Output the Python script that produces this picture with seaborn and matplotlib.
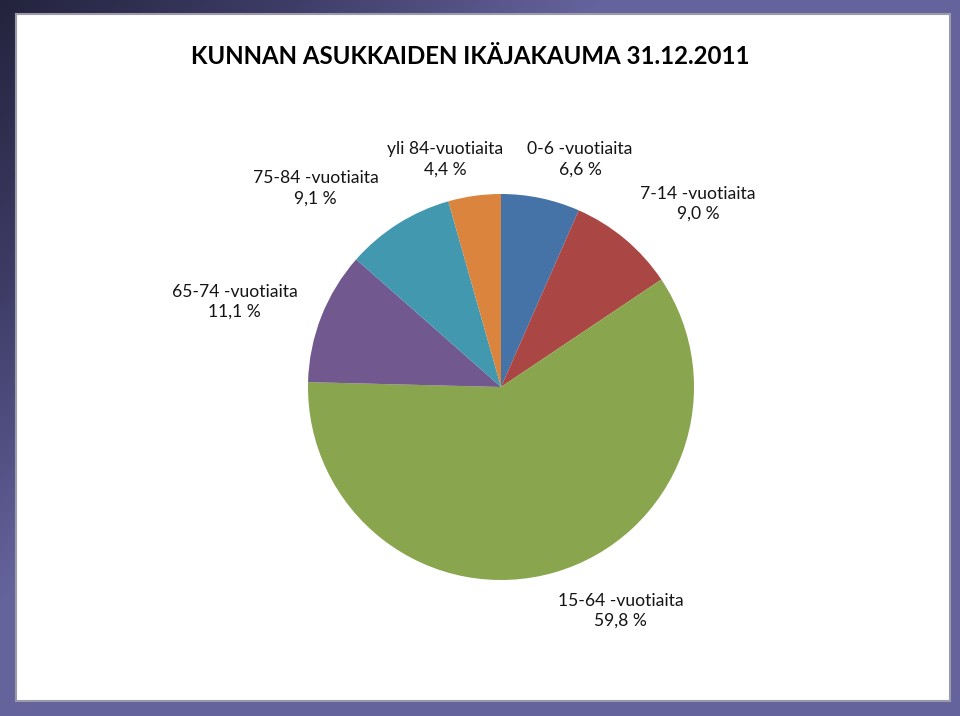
import numpy as np
import matplotlib.pyplot as plt
import matplotlib.colors
from matplotlib.patches import Rectangle
import seaborn as sns

title = "KUNNAN ASUKKAIDEN IKÄJAKAUMA 31.12.2011"
groups = ["0-6 -vuotiaita", "7-14 -vuotiaita", "15-64 -vuotiaita",
          "65-74 -vuotiaita", "75-84 -vuotiaita", "yli 84-vuotiaita"]
shares = [6.6, 9.0, 59.8, 11.1, 9.1, 4.4]
share_labels = ["6,6 %", "9,0 %", "59,8 %", "11,1 %", "9,1 %", "4,4 %"]
colors = ["#4572A7", "#AA4643", "#89A54E", "#71588F", "#4198AF", "#DB843D"]

# label centres, in units of pie radius
label_pos = [(0.41, 1.18), (1.02, 0.95), (0.62, -1.16),
             (-1.38, 0.44), (-0.96, 1.03), (-0.29, 1.18)]

sns.set_theme(style="white")
plt.rcParams['font.family'] = ['Lato', 'DejaVu Sans']

W, H = 960, 716
fig = plt.figure(figsize=(W / 100, H / 100), dpi=100)

# frame with diagonal gradient
bg = fig.add_axes([0, 0, 1, 1])
bg.set_axis_off()
yy, xx = np.mgrid[0:H, 0:W]
t = np.clip((xx + yy) / 600.0, 0, 1)
cmap = matplotlib.colors.LinearSegmentedColormap.from_list("frame", ["#24233d", "#3f3d68", "#65639c"])
bg.imshow(t, cmap=cmap, extent=[0, W, H, 0], aspect='auto')
bg.set_xlim(0, W)
bg.set_ylim(H, 0)
bg.add_patch(Rectangle((16, 14), 934, 687, facecolor="white", edgecolor="#9b9aa8", linewidth=1.5))

fig.text(470 / W, 1 - 56 / H, title, ha='center', va='center', fontsize=17.3,
         fontweight='bold', color='black')

cx, cy, r = 501, 387, 193
ax = fig.add_axes([(cx - r) / W, 1 - (cy + r) / H, 2 * r / W, 2 * r / H])
ax.pie(shares, colors=sns.color_palette(colors), startangle=90, counterclock=False,
       radius=1, wedgeprops=dict(linewidth=0))
ax.set_xlim(-1, 1)
ax.set_ylim(-1, 1)
ax.set_axis_off()

for name, lab, (lx, ly) in zip(groups, share_labels, label_pos):
    ax.text(lx, ly, name + "\n" + lab, ha='center', va='center', fontsize=12.6,
            color='#141414', linespacing=1.3, clip_on=False)

fig.savefig("out.png", dpi=100)
